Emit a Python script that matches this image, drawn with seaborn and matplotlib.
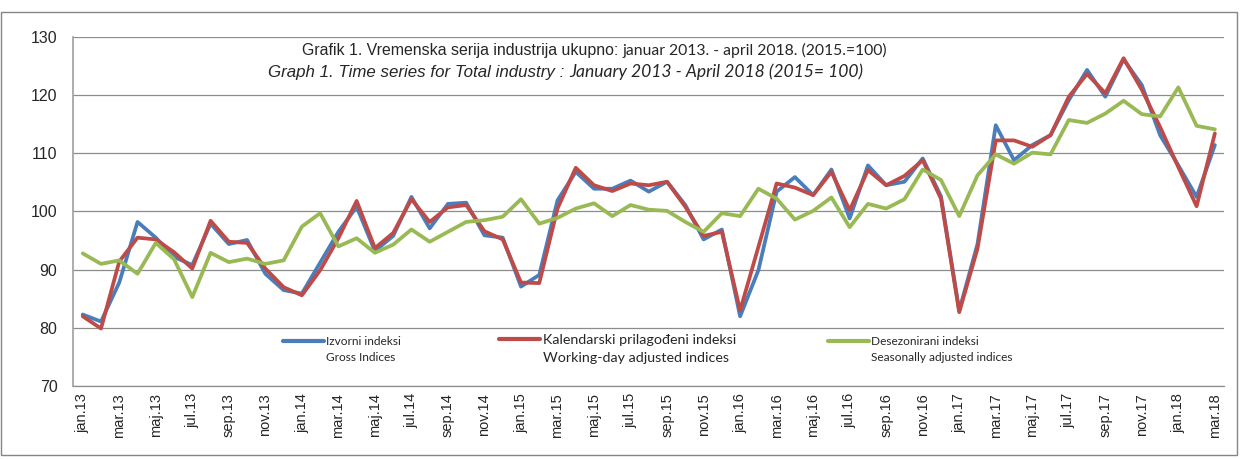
import numpy as np
import pandas as pd
import matplotlib
matplotlib.use("Agg")
import matplotlib.pyplot as plt
import seaborn as sns
from matplotlib.lines import Line2D
from matplotlib.patches import Rectangle

# month labels jan.13 - mar.18
month_abbr = ["jan", "feb", "mar", "apr", "maj", "jun", "jul", "aug", "sep", "okt", "nov", "dec"]
years = ["13", "14", "15", "16", "17", "18"]
n_months = 63
tick_labels = [f"{month_abbr[i % 12]}.{years[i // 12]}" for i in range(n_months)]

# Izvorni indeksi / Gross indices
gross = [82.3, 81.1, 87.8, 98.2, 95.5, 92.2, 90.8, 97.9, 94.4, 95.1, 89.3, 86.5,
         85.9, 91.2, 96.5, 100.8, 93.2, 95.8, 102.5, 97.1, 101.3, 101.5, 95.9, 95.5,
         87.1, 89.1, 101.9, 106.8, 103.9, 103.9, 105.3, 103.4, 105.1, 101.1, 95.2, 96.9,
         82.0, 89.9, 103.4, 105.9, 102.8, 107.2, 98.8, 107.9, 104.5, 105.1, 109.1, 102.6,
         83.0, 94.4, 114.8, 108.8, 111.4, 113.1, 119.1, 124.3, 119.7, 126.1, 121.7, 113.1,
         107.9, 102.5, 111.4]

# Kalendarski prilagodeni indeksi / Working-day adjusted indices
working_day = [82.0, 79.9, 91.4, 95.5, 95.2, 93.0, 90.2, 98.4, 94.8, 94.6, 90.2, 87.0,
               85.6, 89.9, 95.4, 101.8, 93.7, 96.3, 102.1, 98.2, 100.7, 101.1, 96.6, 95.2,
               87.8, 87.7, 100.5, 107.5, 104.5, 103.5, 104.8, 104.5, 105.1, 100.8, 95.8, 96.5,
               83.0, 93.9, 104.8, 104.1, 102.8, 106.8, 100.2, 107.1, 104.5, 106.1, 108.8, 102.2,
               82.7, 93.6, 112.2, 112.2, 111.1, 113.1, 119.7, 123.6, 120.3, 126.3, 120.9, 114.5,
               107.6, 100.9, 113.4]

# Desezonirani indeksi / Seasonally adjusted indices
seasonal = [92.8, 91.0, 91.6, 89.3, 94.6, 91.8, 85.3, 92.9, 91.3, 91.9, 91.0, 91.6,
            97.4, 99.7, 94.0, 95.4, 92.9, 94.3, 96.9, 94.8, 96.5, 98.2, 98.5, 99.1,
            102.1, 97.9, 98.9, 100.5, 101.4, 99.2, 101.1, 100.3, 100.1, 98.2, 96.5, 99.7,
            99.2, 103.9, 102.2, 98.6, 100.1, 102.4, 97.3, 101.3, 100.5, 102.1, 107.2, 105.4,
            99.2, 106.2, 109.8, 108.2, 110.1, 109.8, 115.7, 115.2, 116.8, 119.0, 116.7, 116.3,
            121.3, 114.7, 114.1]

series_names = ["gross", "working", "seasonal"]
colors = {"gross": "#4A7EBB", "working": "#BE4B48", "seasonal": "#98B954"}
legend_lines = {
    "gross": ("Izvorni indeksi", "Gross Indices"),
    "working": ("Kalendarski prilagođeni indeksi", "Working-day adjusted indices"),
    "seasonal": ("Desezonirani indeksi", "Seasonally adjusted indices"),
}

df = pd.DataFrame({
    "mjesec": list(range(n_months)) * 3,
    "indeks": gross + working_day + seasonal,
    "serija": [s for s in series_names for _ in range(n_months)],
})

sns.set_style("white")
plt.rcParams["font.family"] = ["Liberation Sans", "DejaVu Sans"]

W, H = 1250, 459
fig = plt.figure(figsize=(W / 100, H / 100), dpi=100)
ax = fig.add_axes([72.7 / W, 1 - 386.2 / H, (1224 - 72.7) / W, (386.2 - 36.7) / H])

sns.lineplot(data=df, x="mjesec", y="indeks", hue="serija", hue_order=series_names,
             palette=colors, linewidth=2.7, legend=False, sort=False, ax=ax,
             solid_joinstyle="round")

ax.set_xlim(-0.55, n_months - 0.5)
ax.set_ylim(70, 130)
ax.set_yticks(range(70, 131, 10))
ax.yaxis.grid(True, color="#8c8c8c", linewidth=0.9)
ax.set_axisbelow(True)
ax.set_xlabel("")
ax.set_ylabel("")

ax.set_xticks(range(0, n_months, 2))
ax.set_xticklabels(tick_labels[::2], rotation=90, fontsize=10.5)
ax.set_xticks(np.arange(-0.5, n_months - 1, 2), minor=True)
ax.tick_params(axis="x", which="major", length=0, pad=5)
ax.tick_params(axis="x", which="minor", length=4, width=0.9, color="#8c8c8c", direction="out")
ax.tick_params(axis="y", length=4, width=0.9, color="#8c8c8c", direction="out", pad=7, labelsize=11.5)

for side in ["top", "right"]:
    ax.spines[side].set_visible(False)
ax.spines["left"].set_color("#a6a6a6")
ax.spines["left"].set_linewidth(1.3)
ax.spines["bottom"].set_color("#8c8c8c")
ax.spines["bottom"].set_linewidth(0.9)

# title, two fonts on each line
t1 = fig.text(302 / W, 1 - 50 / H, "Grafik 1. Vremenska serija industrija ukupno: ",
              fontsize=11.4, va="center", ha="left", family="Liberation Sans")
ax.annotate("januar 2013. - april 2018. (2015.=100)", xy=(1, 0.5), xycoords=t1,
            va="center", ha="left", fontsize=11.3, family="Lato", annotation_clip=False)
t2 = fig.text(268 / W, 1 - 72 / H, "Graph 1. Time series for Total industry : ",
              fontsize=12.2, va="center", ha="left", style="italic", family="Liberation Sans")
ax.annotate("January 2013 - April 2018 (2015= 100)", xy=(1, 0.5), xycoords=t2,
            va="center", ha="left", fontsize=12.6, style="italic", family="Lato",
            annotation_clip=False)

# legend: one small legend per series, two text lines each
legend_pos = {"gross": (283, 336), "working": (499, 334), "seasonal": (828, 336)}
legend_size = {"gross": 8.6, "working": 10.3, "seasonal": 8.6}
for s in series_names:
    fs = legend_size[s]
    handles = [Line2D([], [], color=colors[s], lw=3),
               Line2D([], [], color="none", lw=3)]
    lx, ly = legend_pos[s]
    fig.legend(handles=handles, labels=list(legend_lines[s]), loc="upper left",
               bbox_to_anchor=(lx / W, 1 - ly / H), frameon=False,
               handlelength=41 / (fs * 100 / 72), handletextpad=0.2, labelspacing=0.45,
               borderpad=0, borderaxespad=0, prop={"family": "Lato", "size": fs})

# chart area border
fig.add_artist(Rectangle((0.5 / W, 1 - 455 / H), 1236.5 / W, 443 / H,
                         transform=fig.transFigure, fill=False, edgecolor="#868686", lw=1))

fig.savefig("out.png", dpi=100)
